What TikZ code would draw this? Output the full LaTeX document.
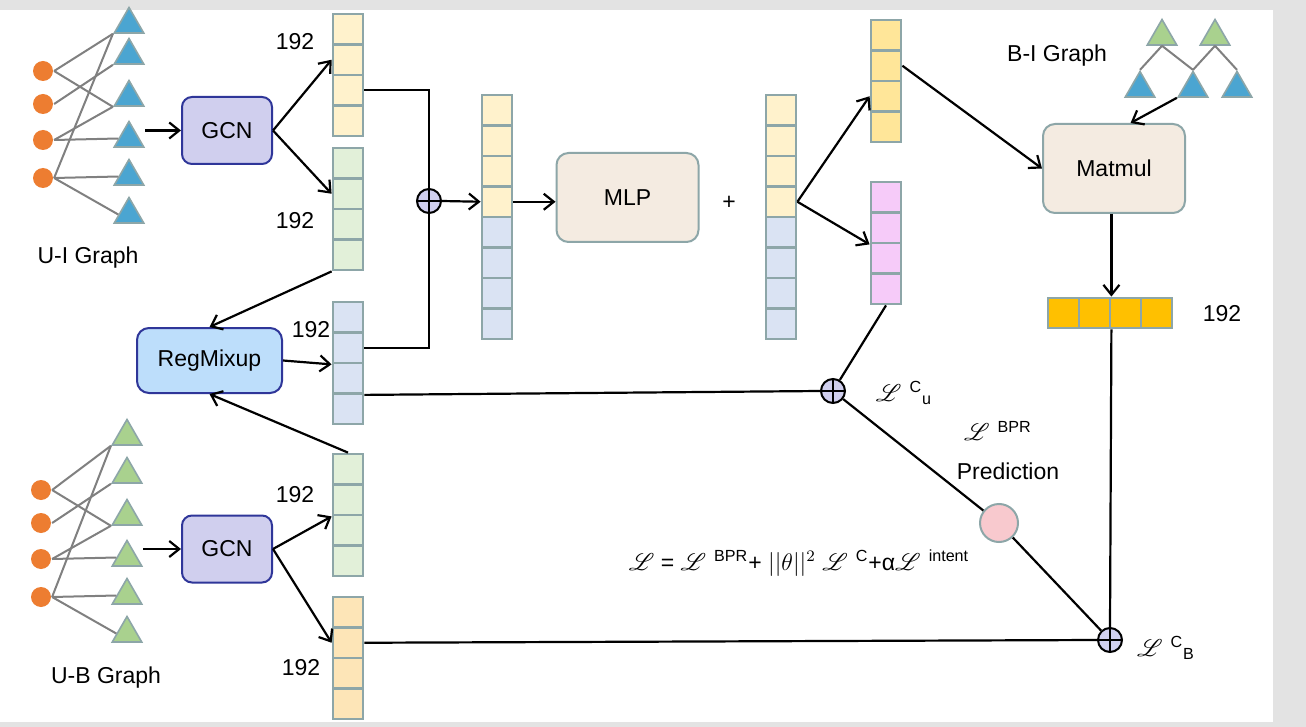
\documentclass[tikz,border=0pt]{standalone}
\usepackage{fontspec}
\setmainfont{Liberation Sans}
\usepackage{mathrsfs}
\usetikzlibrary{arrows.meta,shapes.geometric,calc}

\definecolor{dotOrange}{HTML}{ED7D31}
\definecolor{triBlue}{HTML}{4BA5D1}
\definecolor{triGreen}{HTML}{A9D18E}
\definecolor{cellEdge}{HTML}{8DA6A8}
\definecolor{cYellow}{HTML}{FFF2CC}
\definecolor{cGreen}{HTML}{E2F0D9}
\definecolor{cBlue}{HTML}{DAE3F3}
\definecolor{cPeach}{HTML}{FDE5B7}
\definecolor{cGold}{HTML}{FFE699}
\definecolor{cPink}{HTML}{F6CBF9}
\definecolor{cAmber}{HTML}{FFC000}
\definecolor{gcnFill}{HTML}{D0CFEE}
\definecolor{gcnEdge}{HTML}{2F3699}
\definecolor{mixFill}{HTML}{BDDEFB}
\definecolor{opFill}{HTML}{F4EBE1}
\definecolor{predFill}{HTML}{F8C9CE}
\definecolor{frameGray}{HTML}{E3E3E3}

\newcommand{\Ls}{$\mathscr{L}$}

\tikzset{
  cell/.style={draw=cellEdge, line width=1.4pt, minimum width=15pt, minimum height=15.25pt, inner sep=0pt},
  hcell/.style={draw=cellEdge, fill=cAmber, line width=1.4pt, minimum width=15.5pt, minimum height=15pt, inner sep=0pt},
  gcn/.style={draw=gcnEdge, fill=gcnFill, rounded corners=5pt, line width=1pt, minimum width=45pt, minimum height=33.5pt},
  mixbox/.style={draw=gcnEdge, fill=mixFill, rounded corners=6pt, line width=1pt, minimum width=72.5pt, minimum height=32.5pt},
  opbox/.style={draw=cellEdge, fill=opFill, rounded corners=6pt, line width=1pt, minimum width=71pt, minimum height=44.5pt},
  osum/.style={circle, draw, fill=gcnFill, line width=1pt, minimum size=12pt, inner sep=0pt,
    path picture={\draw[line width=1pt] (path picture bounding box.north) -- (path picture bounding box.south)
      (path picture bounding box.west) -- (path picture bounding box.east);}},
  pred/.style={circle, draw=cellEdge, fill=predFill, line width=1pt, minimum size=19pt, inner sep=0pt},
  dot/.style={circle, fill=dotOrange, minimum size=10pt, inner sep=0pt},
  tri/.style={regular polygon, regular polygon sides=3, minimum size=17pt, inner sep=0pt, draw=cellEdge, line width=0.8pt},
  gedge/.style={draw=gray, line width=1pt},
  lbl/.style={inner sep=0pt}
}

\def\cellH{30.5}

\begin{document}
\begin{tikzpicture}[x=0.5pt, y=-0.5pt, >={Straight Barb[length=5pt,width=8pt]}, line width=1.1pt,
    font=\fontsize{11.5}{13}\selectfont]
  \useasboundingbox (0,0) rectangle (1306,727);
  \fill[frameGray] (0,0) rectangle (1306,727);
  \fill[white] (0,10) rectangle (1273,722);

  % user-item and user-bundle graphs
  \foreach \g/\dx/\dy/\tc/\ty in {ui/0/0/triBlue/24.5, ub/-2/419/triGreen/17.5} {
    \begin{scope}[shift={(\dx,\dy)}]
      \foreach \i/\y in {1/71,2/104,3/140,4/178}
        \node[dot] (\g c\i) at (43,\y) {};
      \foreach \i/\y in {1/\ty,2/55.5,3/97.5,4/138.5,5/176.5,6/214.5}
        \node[tri, fill=\tc] (\g t\i) at (129,\y) {};
      \foreach \p/\q/\anc in {1/1/corner 2,1/3/corner 2,2/2/corner 2,3/3/corner 2,3/4/west,4/1/corner 2,4/5/west,4/6/west}
        \draw[gedge] (\g c\p.east) -- (\g t\q.\anc);
    \end{scope}
  }
  \node[lbl] (uiLbl) at (88,258) {U-I Graph};
  \node[lbl] (ubLbl) at (106,678) {U-B Graph};

  \node[gcn] (gcnA) at (227,130.5) {GCN};
  \node[gcn] (gcnB) at (227,549) {GCN};
  \draw[->] (uit4.corner 3 |- gcnA.west) -- (gcnA.west);
  \draw[->] (ubt4.corner 3 |- gcnB.west) -- (gcnB.west);

  % embedding columns
  \foreach \nm/\x/\y/\f in {uiv/348/14/cYellow, uig/348/148/cGreen, mix/348/302/cBlue,
      ubg/348/454/cGreen, ubv/348/597/cPeach, hu/886/20/cGold, hi/886/182/cPink}
    \foreach \i in {1,...,4}
      \node[cell, fill=\f] (\nm\i) at (\x,{\y+\cellH*(\i-0.5)}) {};
  \foreach \nm/\x in {cat/497, emb/781}
    \foreach \i/\f in {1/cYellow,2/cYellow,3/cYellow,4/cYellow,5/cBlue,6/cBlue,7/cBlue,8/cBlue}
      \node[cell, fill=\f] (\nm\i) at (\x,{95+\cellH*(\i-0.5)}) {};
  \foreach \i in {1,...,4}
    \node[hcell] (bv\i) at ({1048+31*(\i-0.5)},313) {};

  \node[lbl] (dimA) at (295,42) {192};
  \node[lbl] (dimB) at (295,221) {192};
  \node[lbl] (dimC) at (311,330) {192};
  \node[lbl] (dimD) at (295,495) {192};
  \node[lbl] (dimE) at (301,668) {192};
  \node[lbl] (dimJ) at (1222,314) {192};

  \draw[->] (gcnA.east) -- (uiv2.west);
  \draw[->] (gcnA.east) -- (uig2.west);
  \draw[->] (gcnB.east) -- (ubg2.south west);
  \draw[->] (gcnB.east) -- (ubv2.west);

  % regmixup
  \node[mixbox] (regmix) at (209.5,360.5) {RegMixup};
  \draw[->] (uig4.south west) -- (regmix.north);
  \draw[->] (regmix.east) -- (mix2.south west);
  \draw[->] (ubg1.north) -- (regmix.south);

  % fusion and mlp
  \node[osum] (sumA) at (429,201) {};
  \draw (uiv3.east) -| (sumA.north);
  \draw (mix2.east) -| (sumA.south);
  \draw[->] (sumA.east) -- (cat4.west);
  \node[opbox] (mlp) at (627.5,197.5) {MLP};
  \draw[->] (cat4.east) -- (mlp.west |- cat4.east);
  \node[lbl] (plus) at (729,203) {+};
  \draw[->] (emb4.east) -- (hu3.west);
  \draw[->] (emb4.east) -- (hi2.south west);

  % bundle-item graph
  \node[lbl] (biLbl) at (1057,56) {B-I Graph};
  \foreach \i/\x in {1/1162,2/1215}
    \node[tri, fill=triGreen] (big\i) at (\x,36.5) {};
  \foreach \i/\x in {1/1140,2/1193,3/1237}
    \node[tri, fill=triBlue] (bib\i) at (\x,88.5) {};
  \foreach \p/\q in {1/1,1/2,2/2,2/3}
    \draw[gedge] (big\p.south) -- (bib\q.north);

  \node[opbox] (matmul) at (1114,168.5) {Matmul};
  \draw[->] (hu2.east) -- (matmul.west);
  \draw[->] (bib2.corner 2) -- (matmul.70);
  \draw[->] (matmul.south -| bv2.east) -- (bv2.north east);

  % losses
  \node[osum] (sumU) at (833,391) {};
  \node[osum] (sumB) at (1110,640) {};
  \node[pred] (pred) at (999,523) {};
  \draw (bv2.south east) -- (sumB.north);
  \draw (ubv2.east) -- (sumB.west);
  \draw (mix3.south east) -- (sumU.west);
  \draw (hi4.south) -- (sumU);
  \draw (sumU) -- (pred);
  \draw (pred) -- (sumB);

  \node[lbl] (lossU) at (904,393) {\Ls\hspace{4pt}\textsuperscript{C}\textsubscript{u}};
  \node[lbl] (lossBpr) at (998,431) {\Ls\hspace{4pt}\textsuperscript{BPR}};
  \node[lbl] (predLbl) at (1008,471) {Prediction};
  \node[lbl] (lossB) at (1166,648) {\Ls\hspace{4pt}\textsuperscript{C}\textsubscript{B}};
  \node[lbl] (total) at (799,563) {\Ls{} = \Ls\hspace{4pt}\textsuperscript{BPR}+ $||\theta||^2$ \Ls\hspace{4pt}\textsuperscript{C}+α\Ls\hspace{4pt}\textsuperscript{intent}};
\end{tikzpicture}
\end{document}
